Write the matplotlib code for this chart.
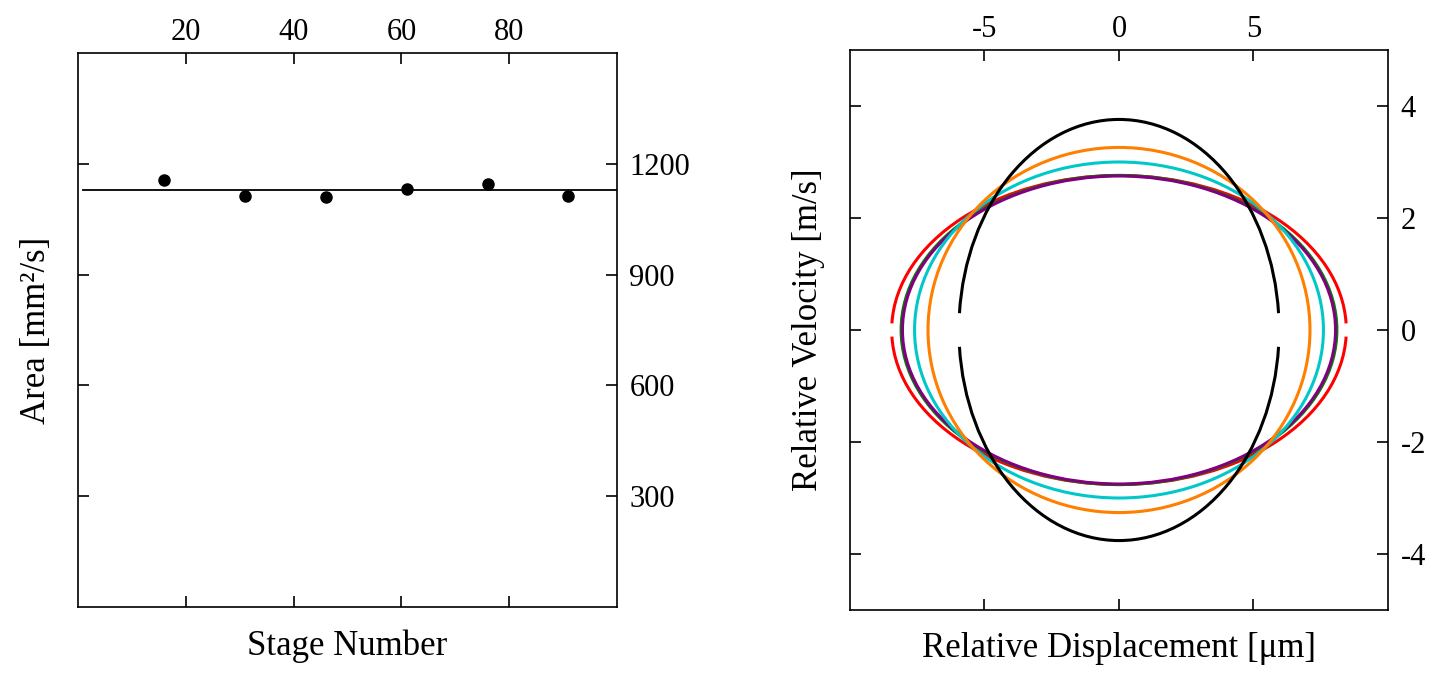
import numpy as np
import matplotlib.pyplot as plt
from matplotlib.patches import Arc

plt.rcParams['font.family'] = ['Liberation Serif', 'DejaVu Serif']
plt.rcParams['axes.unicode_minus'] = False

# left panel: area per stage
stage = [16, 31, 46, 61, 76, 91]
area = [1157, 1113, 1110, 1132, 1146, 1113]

# right panel: phase portraits (displacement / velocity amplitudes)
disp_amp = [8.45, 8.1, 8.05, 7.6, 7.1, 5.95]
vel_amp = [2.76, 2.76, 2.75, 3.0, 3.26, 3.76]
colors = ['#ff0000', '#008000', '#800080', '#00c8c8', '#ff7f00', '#000000']
gaps = [0.8, 0, 0, 0, 0, 2.9]  # degrees cut out around y=0

fig = plt.figure(figsize=(14.5, 6.85), dpi=100)
ax1 = fig.add_axes([78 / 1450, 78 / 685, 539 / 1450, 554 / 685])
ax2 = fig.add_axes([850 / 1450, 75 / 685, 538 / 1450, 560 / 685])

mean_area = np.mean(area)
ax1.plot([1, 100], [mean_area, mean_area], color='black', lw=1.3)
ax1.plot(stage, area, 'o', color='black', markersize=8)
ax1.set_xlim(0, 100)
ax1.set_ylim(0, 1500)
ax1.set_xticks([20, 40, 60, 80])
ax1.set_yticks([300, 600, 900, 1200])
ax1.set_xlabel('Stage Number', fontsize=25, labelpad=16)
ax1.set_ylabel('Area [mm²/s]', fontsize=25, labelpad=18)

for a, b, c, g in zip(disp_amp, vel_amp, colors, gaps):
    ax2.add_patch(Arc((0, 0), 2 * a, 2 * b, theta1=g, theta2=180 - g,
                      color=c, lw=2.2))
    ax2.add_patch(Arc((0, 0), 2 * a, 2 * b, theta1=180 + g, theta2=360 - g,
                      color=c, lw=2.2))
ax2.set_xlim(-10, 10)
ax2.set_ylim(-5, 5)
ax2.set_xticks([-5, 0, 5])
ax2.set_yticks([-4, -2, 0, 2, 4])
ax2.set_xlabel('Relative Displacement [μm]', fontsize=25, labelpad=16)
ax2.set_ylabel('Relative Velocity [m/s]', fontsize=25, labelpad=18)

for ax in (ax1, ax2):
    ax.tick_params(direction='in', length=8, width=1.2, labelsize=22, pad=9,
                   top=True, bottom=True, left=True, right=True,
                   labeltop=True, labelbottom=False,
                   labelleft=False, labelright=True)
    ax.tick_params(axis='x', pad=4)
    ax.xaxis.set_label_position('bottom')
    ax.yaxis.set_label_position('left')
    for s in ax.spines.values():
        s.set_linewidth(1.2)

fig.savefig('out.png', dpi=100)
